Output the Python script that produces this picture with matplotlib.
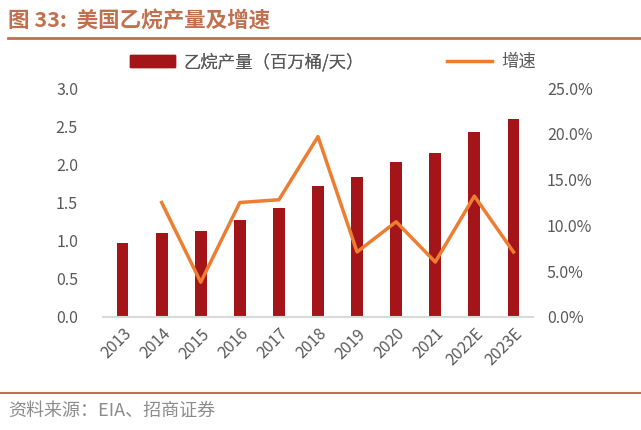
import matplotlib
matplotlib.use("Agg")
import matplotlib.pyplot as plt
from matplotlib.lines import Line2D
from matplotlib.patches import Patch

plt.rcParams['font.family'] = ['Noto Sans CJK SC', 'DejaVu Sans']

years = ["2013", "2014", "2015", "2016", "2017", "2018", "2019", "2020", "2021", "2022E", "2023E"]
production = [0.97, 1.10, 1.13, 1.27, 1.43, 1.71, 1.84, 2.03, 2.15, 2.43, 2.60]
growth_years = years[1:]
growth = [12.5, 3.8, 12.5, 12.8, 19.7, 7.1, 10.4, 6.0, 13.2, 7.1]

bar_color = "#A31519"
line_color = "#ED7D31"
tick_color = "#595959"
title_color = "#C0704F"

fig = plt.figure(figsize=(6.41, 4.30), dpi=100)
ax = fig.add_axes([0.1607, 0.2628, 0.6708, 0.5325])
ax2 = ax.twinx()

x = list(range(len(years)))
ax.bar(x, production, width=0.3, color=bar_color, zorder=2)
gx = [years.index(y) for y in growth_years]
ax2.plot(gx, growth, color=line_color, lw=2.5, zorder=3)

ax.set_xlim(-0.5, 10.5)
ax.set_ylim(0, 3.0)
ax2.set_ylim(0, 25)
ax.set_yticks([0, 0.5, 1.0, 1.5, 2.0, 2.5, 3.0])
ax.set_yticklabels([f"{v:.1f}" for v in [0, 0.5, 1.0, 1.5, 2.0, 2.5, 3.0]])
ax2.set_yticks([0, 5, 10, 15, 20, 25])
ax2.set_yticklabels([f"{v:.1f}%" for v in [0, 5, 10, 15, 20, 25]])
ax.set_xticks(x)
ax.set_xticklabels(years, rotation=45, ha="right", rotation_mode="anchor")

for a in (ax, ax2):
    for s in a.spines.values():
        s.set_visible(False)
    a.tick_params(length=0, colors=tick_color, labelsize=11.5)
ax.spines['bottom'].set_visible(True)
ax.spines['bottom'].set_color("#D9D9D9")
ax.spines['bottom'].set_linewidth(1.5)
ax.tick_params(axis='y', pad=18)
ax2.tick_params(axis='y', pad=10)
ax.tick_params(axis='x', pad=6)

leg1 = fig.legend([Patch(color=bar_color)], ["乙烷产量（百万桶/天）"], loc="center left",
                  bbox_to_anchor=(130 / 641, 0.856), frameon=False, fontsize=12.5,
                  handlelength=2.6, handletextpad=0.5, borderpad=0, borderaxespad=0,
                  labelcolor=tick_color)
leg2 = fig.legend([Line2D([0], [0], color=line_color, lw=2.5)], ["增速"], loc="center left",
                  bbox_to_anchor=(447 / 641, 0.856), frameon=False, fontsize=12.5,
                  handlelength=2.6, handletextpad=0.5, borderpad=0, borderaxespad=0,
                  labelcolor=tick_color)
fig.add_artist(leg1)

fig.text(0.012, 0.952, "图 33:  美国乙烷产量及增速", color=title_color, fontsize=15.5,
         fontweight="bold", va="center", ha="left")
fig.add_artist(Line2D([0.012, 1.0], [0.912, 0.912], color=title_color, lw=2))
fig.add_artist(Line2D([0.0, 1.0], [0.086, 0.086], color=title_color, lw=1.5))
fig.text(0.012, 0.045, "资料来源：EIA、招商证券", color="#8C8C8C", fontsize=13,
         va="center", ha="left")

fig.savefig("out.png", dpi=100)
